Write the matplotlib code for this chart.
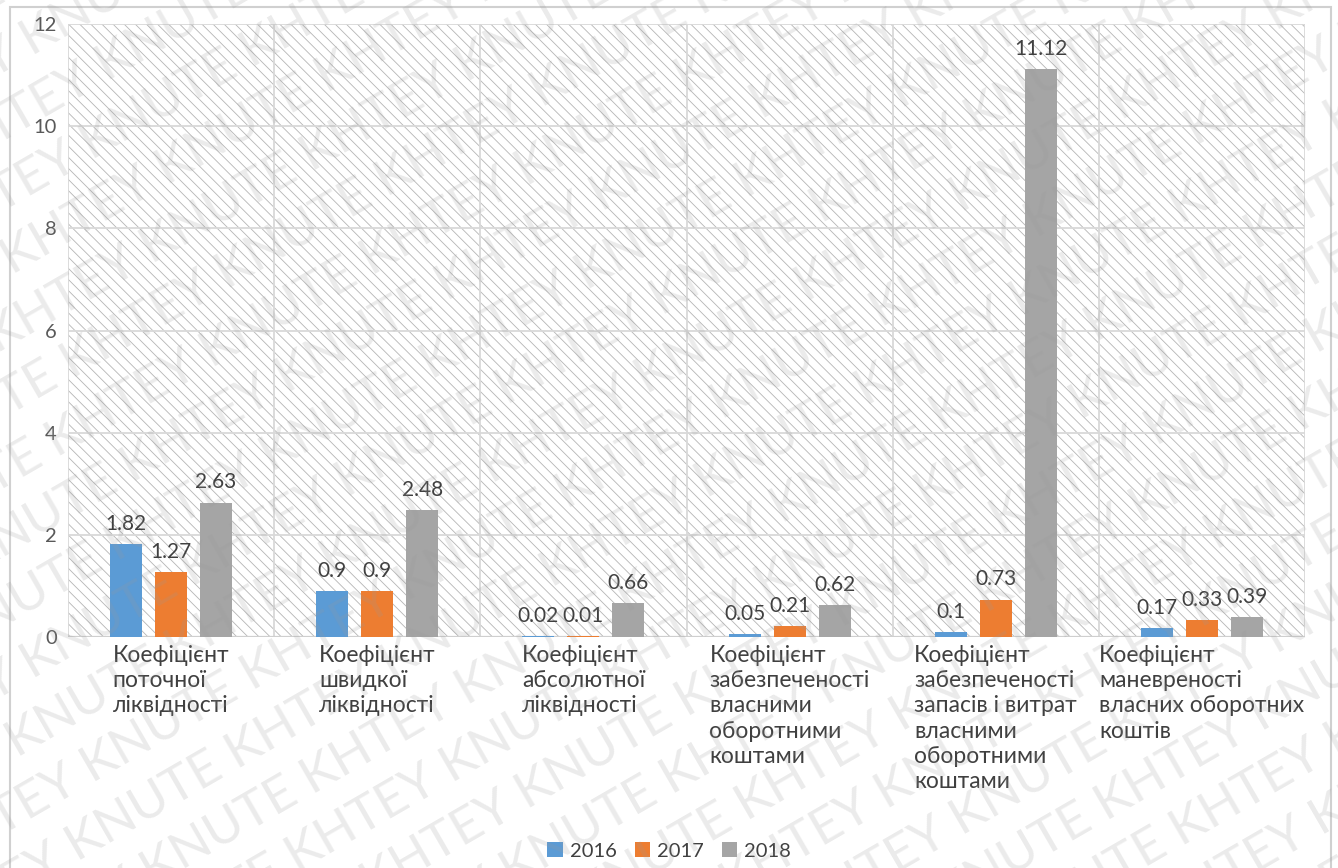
import numpy as np
import matplotlib.pyplot as plt
from matplotlib.patches import Rectangle

plt.rcParams['font.family'] = ['Lato', 'DejaVu Sans']
plt.rcParams['hatch.linewidth'] = 0.6

categories = [
    'Коефіцієнт\nпоточної\nліквідності',
    'Коефіцієнт\nшвидкої\nліквідності',
    'Коефіцієнт\nабсолютної\nліквідності',
    'Коефіцієнт\nзабезпеченості\nвласними\nоборотними\nкоштами',
    'Коефіцієнт\nзабезпеченості\nзапасів і витрат\nвласними\nоборотними\nкоштами',
    'Коефіцієнт\nманевреності\nвласних оборотних\nкоштів',
]
years = ['2016', '2017', '2018']
v2016 = [1.82, 0.9, 0.02, 0.05, 0.1, 0.17]
v2017 = [1.27, 0.9, 0.01, 0.21, 0.73, 0.33]
v2018 = [2.63, 2.48, 0.66, 0.62, 11.12, 0.39]
colors = ['#5B9BD5', '#ED7D31', '#A5A5A5']
grid_c = '#d9d9d9'
text_c = '#595959'

fig = plt.figure(figsize=(13.38, 8.68), dpi=100)
ax = fig.add_axes([68/1338, 1-637/868, (1305-68)/1338, (637-24)/868])

# заштрихована область побудови
ax.add_patch(Rectangle((0, 0), 1, 1, transform=ax.transAxes, facecolor='white',
                       edgecolor='#b5b5b5', hatch='\\\\\\', linewidth=0, zorder=0))

x = np.arange(len(categories))
w = 0.155
step = 0.218
for i, (vals, yr) in enumerate(zip([v2016, v2017, v2018], years)):
    bars = ax.bar(x + (i-1)*step, vals, w, color=colors[i], label=yr, zorder=3)
    for b, v in zip(bars, vals):
        ax.text(b.get_x() + b.get_width()/2, v + 0.2, f'{v:g}', ha='center', va='bottom',
                fontsize=15, color='#404040', zorder=4)

ax.set_xlim(-0.5, len(categories)-0.5)
ax.set_ylim(0, 12)
ax.set_yticks(range(0, 13, 2))
ax.set_xticks(x)
ax.tick_params(axis='both', length=0, colors=text_c)
ax.tick_params(axis='y', pad=8, labelsize=14.5)
ax.tick_params(axis='x', pad=6, labelcolor='#404040')
ax.set_xticklabels(categories, fontsize=16.5, color='#404040', multialignment='left', va='top',
                   linespacing=1.24)
for yv in range(2, 13, 2):
    ax.axhline(yv, color=grid_c, lw=1.3, zorder=1)
for xv in np.arange(-0.5, len(categories), 1):
    ax.axvline(xv, color=grid_c, lw=1.3, zorder=1)
for s in ax.spines.values():
    s.set_visible(False)
ax.axhline(0, color='#cfcfcf', lw=1.6, zorder=2)

fig.legend(loc='center', bbox_to_anchor=(0.5, 1-851/868), ncol=3, frameon=False,
           fontsize=14.5, handlelength=0.75, handleheight=0.75, handletextpad=0.35,
           columnspacing=0.9, labelcolor='#404040')

# рамка діаграми
fig.patches.append(Rectangle((10/1338, -0.02), (1331-10)/1338, 1-7/868+0.02,
                             transform=fig.transFigure, fill=False, edgecolor='#d0d0d0', lw=1.5))

# водяний знак
ang = 30
row = 'KNUTE KHTEY ' * 10
rad = np.deg2rad(ang)
for k in range(-14, 16):
    cx = 0.5 + k * 60 * np.sin(rad) / 1338
    cy = 0.5 - k * 60 * np.cos(rad) / 868
    fig.text(cx, cy, row if k % 2 else 'TEY ' + row, rotation=ang, rotation_mode='anchor',
             ha='center', va='center', fontsize=37, color='#9a9a9a', alpha=0.2, zorder=10)

fig.savefig('out.png', dpi=100)
